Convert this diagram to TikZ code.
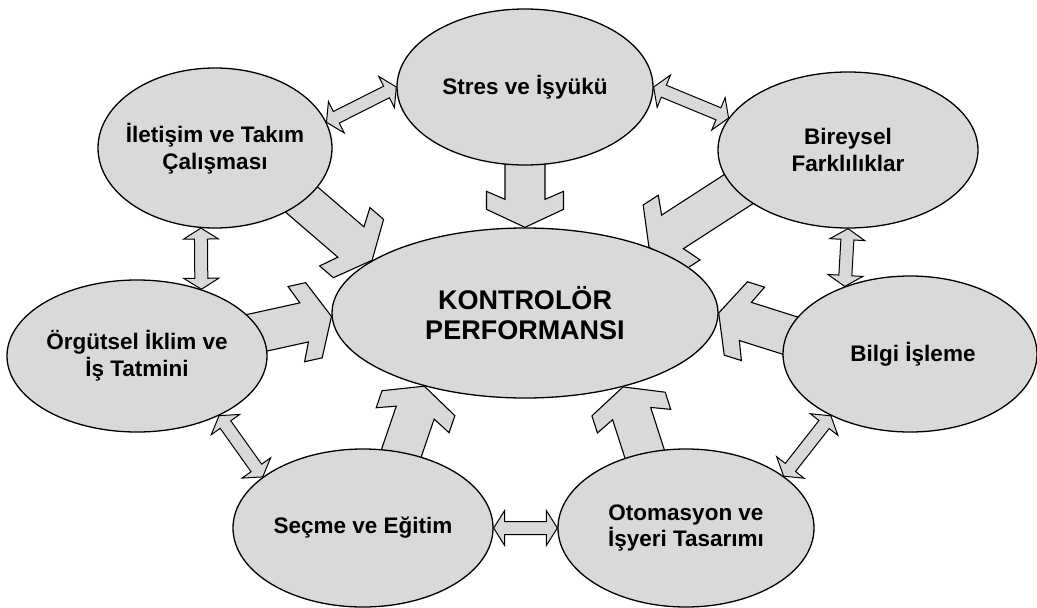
\documentclass[tikz,border=0pt]{standalone}
\usepackage{fontspec}
\setmainfont{Liberation Sans}
\usetikzlibrary{shapes.geometric,calc}

\pgfdeclarelayer{arrows}
\pgfsetlayers{arrows,main}

\definecolor{grainfill}{gray}{0.85}

\tikzset{
  bubble/.style={ellipse, draw=black, line width=1.3pt, fill=grainfill, inner sep=0pt},
  caption/.style={font=\bfseries\fontsize{22.5}{26.7}\selectfont, align=center, inner sep=0pt},
  bigcaption/.style={font=\bfseries\fontsize{27}{30}\selectfont, align=center, inner sep=0pt},
  blockarrow/.style={draw=black, line width=1.1pt, fill=grainfill, line join=miter},
}

% frame of a connector: start point, angle and length between two anchors
\newcommand{\arrowframe}[2]{%
  \path let \p1=(#1), \p2=(#2) in
    \pgfextra{%
      \pgfmathsetmacro\arrTmpA{atan2((\y2)-(\y1),(\x2)-(\x1))}%
      \pgfmathsetmacro\arrTmpL{veclen((\x2)-(\x1),(\y2)-(\y1))}%
      \xdef\arrAng{\arrTmpA}\xdef\arrLen{\arrTmpL}%
      \xdef\arrX{\x1}\xdef\arrY{\y1}};%
}

% wide one-way block arrow with a swept head
\newcommand{\thickarrow}[2]{%
  \arrowframe{#1}{#2}%
  \pgfmathsetmacro\arrJn{\arrLen-28}%
  \pgfmathsetmacro\arrWb{\arrLen-36}%
  \pgfmathsetmacro\arrWf{\arrLen-18}%
  \begin{scope}[shift={(\arrX,\arrY)}, rotate=\arrAng]
    \draw[blockarrow] (-25pt,-20pt) -- (\arrJn pt,-20pt) -- (\arrWb pt,-38.5pt)
      -- (\arrWf pt,-38.5pt) -- (\arrLen pt,0pt) -- (\arrWf pt,38.5pt)
      -- (\arrWb pt,38.5pt) -- (\arrJn pt,20pt) -- (-25pt,20pt) -- cycle;
  \end{scope}%
}

% narrow two-way block arrow
\newcommand{\twowayarrow}[2]{%
  \arrowframe{#1}{#2}%
  \pgfmathsetmacro\arrHb{\arrLen-11}%
  \begin{scope}[shift={(\arrX,\arrY)}, rotate=\arrAng]
    \draw[blockarrow, line width=1pt] (0pt,0pt) -- (11pt,-17.5pt) -- (11pt,-6.5pt)
      -- (\arrHb pt,-6.5pt) -- (\arrHb pt,-17.5pt) -- (\arrLen pt,0pt)
      -- (\arrHb pt,17.5pt) -- (\arrHb pt,6.5pt) -- (11pt,6.5pt)
      -- (11pt,17.5pt) -- cycle;
  \end{scope}%
}

\begin{document}
\begin{tikzpicture}[x=1pt,y=-1pt]
\useasboundingbox (0,0) rectangle (1037,608);

% ellipses
\node[bubble, minimum width=386pt, minimum height=170pt] (perf) at (525,313) {};
\node[bubble, minimum width=256pt, minimum height=156pt] (stres) at (525,87) {};
\node[bubble, minimum width=234pt, minimum height=160pt] (iletisim) at (215,148) {};
\node[bubble, minimum width=260pt, minimum height=156pt] (bireysel) at (848,150) {};
\node[bubble, minimum width=260pt, minimum height=152pt] (orgutsel) at (137,356) {};
\node[bubble, minimum width=254pt, minimum height=156pt] (bilgi) at (910,354) {};
\node[bubble, minimum width=260pt, minimum height=158pt] (secme) at (363,528) {};
\node[bubble, minimum width=256pt, minimum height=158pt] (otomasyon) at (686,528) {};

% captions
\node[bigcaption] (perftext) at (perf.center) {KONTROLÖR\\PERFORMANSI};
\node[caption] (strestext) at (stres.center) {Stres ve İşyükü};
\node[caption] (iletisimtext) at ([yshift=-1pt]iletisim.center) {İletişim ve Takım\\Çalışması};
\node[caption] (bireyseltext) at (bireysel.center) {Bireysel\\Farklılıklar};
\node[caption] (orgutseltext) at (orgutsel.center) {Örgütsel İklim ve\\İş Tatmini};
\node[caption] (bilgitext) at ([xshift=3pt]bilgi.center) {Bilgi İşleme};
\node[caption] (secmetext) at (secme.center) {Seçme ve Eğitim};
\node[caption] (otomasyontext) at (otomasyon.center) {Otomasyon ve\\İşyeri Tasarımı};

% connectors, kept behind the ellipses
\begin{pgfonlayer}{arrows}
  \thickarrow{stres.270}{perf.90}
  \thickarrow{iletisim.-31.2}{perf.161}
  \thickarrow{bireysel.200.2}{perf.28.7}
  \thickarrow{orgutsel.11}{perf.181.4}
  \thickarrow{secme.63.9}{perf.216.4}
  \thickarrow{bilgi.171.1}{perf.0}
  \thickarrow{otomasyon.119.1}{perf.-37.3}

  \twowayarrow{iletisim.13.6}{stres.180}
  \twowayarrow{stres.0}{bireysel.165.7}
  \twowayarrow{iletisim.260.4}{orgutsel.46}
  \twowayarrow{orgutsel.-36.9}{secme.153.5}
  \twowayarrow{secme.0}{otomasyon.180}
  \twowayarrow{otomasyon.28.2}{bilgi.218.3}
  \twowayarrow{bireysel.270}{bilgi.134}
\end{pgfonlayer}
\end{tikzpicture}
\end{document}
